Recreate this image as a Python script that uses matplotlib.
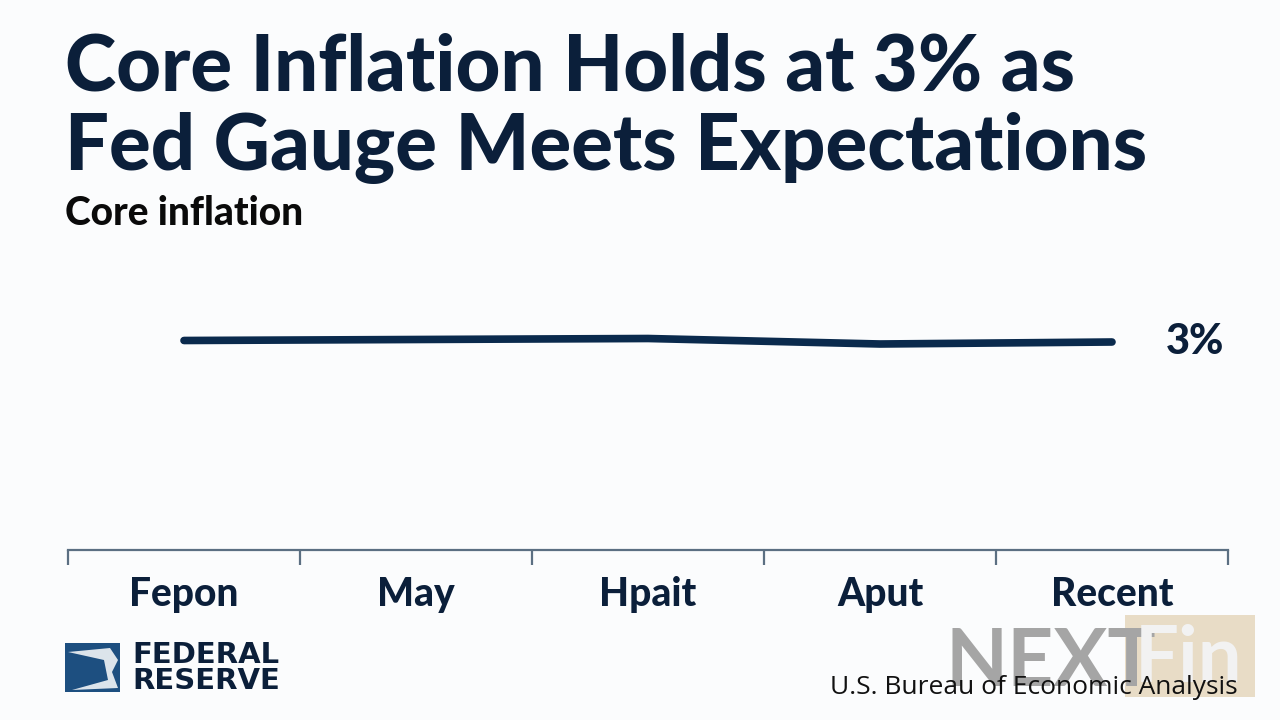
import matplotlib
matplotlib.use('Agg')
import matplotlib.pyplot as plt
from matplotlib.patches import Rectangle, Polygon

# data
months = ['Fepon', 'May', 'Hpait', 'Aput', 'Recent']
core = [2.995, 3.005, 3.015, 2.96, 2.98]
last_label = '3%'

navy = '#0b1f3a'
line_col = '#0a2a4d'
bg = '#fbfcfd'

plt.rcParams['font.family'] = ['Lato', 'DejaVu Sans']

fig = plt.figure(figsize=(12.8, 7.2), dpi=100, facecolor=bg)
ax = fig.add_axes([68/1280, 1-550/720, 1160/1280, 320/720], facecolor=bg)

x = list(range(len(months)))
ax.plot(x, core, color=line_col, lw=5.5, solid_capstyle='round', solid_joinstyle='round')
ax.text(len(months) - 1 + 0.23, core[-1], last_label, fontsize=30, fontweight='black',
        color=navy, va='center', ha='left')

ax.set_xlim(-0.5, 4.5)
ax.set_ylim(0.9, 4.1)
for s in ['top', 'right', 'left']:
    ax.spines[s].set_visible(False)
ax.spines['bottom'].set_color('#5b6f82')
ax.spines['bottom'].set_linewidth(1.6)
ax.set_yticks([])
ax.set_xticks([i - 0.5 for i in range(len(months) + 1)])
ax.set_xticklabels([])
ax.tick_params(axis='x', direction='out', length=11, width=1.6, color='#5b6f82')
ax.set_xticks(x, minor=True)
ax.set_xticklabels(months, minor=True, fontsize=28, fontweight='black', color=navy)
ax.tick_params(axis='x', which='minor', length=0, pad=19)

# titles
fig.text(65/1280, 1-68/720, 'Core Inflation Holds at 3% as', fontsize=56, fontweight='black',
         color=navy, va='center', ha='left')
fig.text(65/1280, 1-148/720, 'Fed Gauge Meets Expectations', fontsize=56, fontweight='black',
         color=navy, va='center', ha='left')
fig.text(65/1280, 1-213/720, 'Core inflation', fontsize=28, fontweight='black',
         color='#0a0a0a', va='center', ha='left')

# Federal Reserve logo
fig.patches.append(Rectangle((65/1280, 1-692/720), 55/1280, 49/720, transform=fig.transFigure,
                             facecolor='#1d4f80', edgecolor='none'))
fig.patches.append(Polygon([(68/1280, 1-652/720), (110/1280, 1-648/720), (118/1280, 1-660/720),
                            (112/1280, 1-672/720), (118/1280, 1-688/720), (72/1280, 1-690/720),
                            (108/1280, 1-680/720), (104/1280, 1-660/720)],
                           closed=True, transform=fig.transFigure, facecolor='white', alpha=0.85))
fig.text(132/1280, 1-655/720, 'FEDERAL', fontsize=21, fontweight='bold', color=navy,
         va='center', ha='left', family=['DejaVu Sans'])
fig.text(132/1280, 1-681/720, 'RESERVE', fontsize=21, fontweight='bold', color=navy,
         va='center', ha='left', family=['DejaVu Sans'])

# watermark
fig.patches.append(Rectangle((1125/1280, 1-697/720), 130/1280, 82/720, transform=fig.transFigure,
                             facecolor='#e8dcc6', edgecolor='none'))
fig.text(945/1280, 1-663/720, 'NEXT', fontsize=58, fontweight='bold', color='#a5a5a5',
         va='center', ha='left')
fig.text(1135/1280, 1-660/720, 'Fin', fontsize=56, fontweight='bold', color='#f2f2f2',
         va='center', ha='left')

fig.text(1238/1280, 1-688/720, 'U.S. Bureau of Economic Analysis', fontsize=19, color='#111111',
         va='center', ha='right', family=['Open Sans', 'DejaVu Sans'])

fig.savefig('out.png', dpi=100, facecolor=bg)
